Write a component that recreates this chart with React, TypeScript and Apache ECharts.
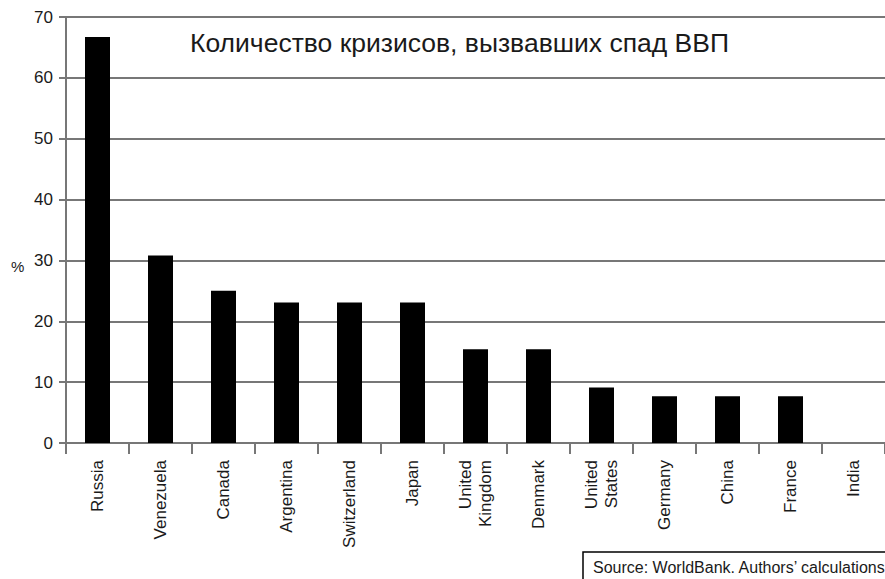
import React, { useEffect, useRef } from "react";
import * as echarts from "echarts";

const categories = [
  "Russia",
  "Venezuela",
  "Canada",
  "Argentina",
  "Switzerland",
  "Japan",
  "United\nKingdom",
  "Denmark",
  "United\nStates",
  "Germany",
  "China",
  "France",
  "India",
];
const values = [66.7, 30.8, 25.0, 23.1, 23.1, 23.1, 15.4, 15.4, 9.1, 7.7, 7.7, 7.7, 0];
const titleText = "Количество кризисов, вызвавших спад ВВП";
const yAxisName = "%";
const sourceText = "Source: WorldBank. Authors’ calculations";

const FONT = "'Liberation Sans', Arial, sans-serif";

export default function App() {
  const ref = useRef<HTMLDivElement>(null);
  useEffect(() => {
    if (!ref.current) return;
    const chart = echarts.init(ref.current, null, { renderer: "svg" });
    chart.setOption({
      animation: false,
      backgroundColor: "#ffffff",
      textStyle: { fontFamily: FONT },
      grid: { left: 66, top: 17, width: 823, height: 426, containLabel: false },
      xAxis: {
        type: "category",
        data: categories,
        axisLine: { lineStyle: { color: "#777", width: 2 } },
        axisTick: { show: true, length: 11, lineStyle: { color: "#777", width: 2 } },
        axisLabel: {
          rotate: 90,
          color: "#1a1a1a",
          fontSize: 17,
          fontFamily: FONT,
          margin: 17,
          lineHeight: 20,
          interval: 0,
        },
      },
      yAxis: {
        type: "value",
        min: 0,
        max: 70,
        interval: 10,
        axisLine: { show: true, lineStyle: { color: "#777", width: 2 } },
        axisTick: { show: true, length: 7, lineStyle: { color: "#777", width: 2 } },
        axisLabel: { color: "#1a1a1a", fontSize: 17, fontFamily: FONT, margin: 13 },
        splitLine: { lineStyle: { color: "#777", width: 2 } },
      },
      series: [
        {
          type: "bar",
          data: values,
          barWidth: 25,
          itemStyle: { color: "#000000" },
        },
      ],
      graphic: [
        {
          type: "text",
          left: 190,
          top: 29,
          style: { text: titleText, fontSize: 26.5, fill: "#1a1a1a", fontFamily: FONT },
        },
        {
          type: "text",
          left: 11,
          top: 259,
          style: { text: yAxisName, fontSize: 15, fill: "#1a1a1a", fontFamily: FONT },
        },
        {
          type: "rect",
          shape: { x: 583, y: 552, width: 320, height: 40 },
          style: { fill: "#ffffff", stroke: "#000", lineWidth: 1.5 },
        },
        {
          type: "text",
          left: 593,
          top: 559,
          style: { text: sourceText, fontSize: 16, fill: "#1a1a1a", fontFamily: FONT },
        },
      ],
    });
    return () => chart.dispose();
  }, []);
  return (
    <div
      ref={ref}
      style={{ position: "fixed", left: 0, top: 0, width: 885, height: 579 }}
    />
  );
}
